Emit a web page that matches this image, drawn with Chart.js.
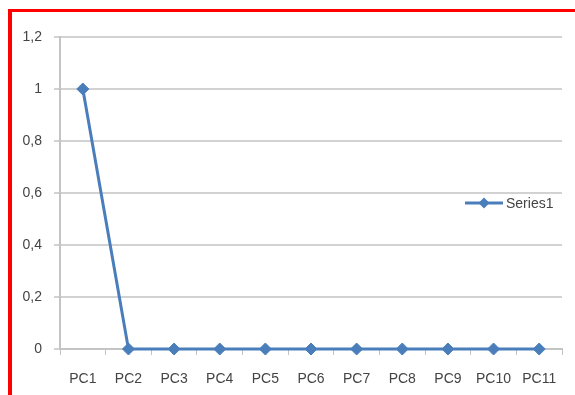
<!DOCTYPE html>
<html>
<head>
<meta charset="utf-8">
<script src="https://cdn.jsdelivr.net/npm/chart.js@4/dist/chart.umd.min.js"></script>
<style>
  html, body { margin: 0; padding: 0; background: #ffffff; }
  #wrap { position: relative; width: 575px; height: 395px; overflow: hidden; }
  #c { position: absolute; left: 0; top: 0; }
  #frame { position: absolute; left: 8px; top: 9px; width: 600px; height: 420px;
           border-left: 4px solid #ff0000; border-top: 3px solid #ff0000; pointer-events: none; }
</style>
</head>
<body>
<div id="wrap">
  <canvas id="c" width="575" height="395"></canvas>
  <div id="frame"></div>
</div>
<script>
const categories = ['PC1','PC2','PC3','PC4','PC5','PC6','PC7','PC8','PC9','PC10','PC11'];
const series1 = [1, 0, 0, 0, 0, 0, 0, 0, 0, 0, 0];
const seriesName = 'Series1';
const yTicks = [0, 0.2, 0.4, 0.6, 0.8, 1, 1.2];

const blue = '#4a7ebb';
const textColor = '#444444';
const fontFamily = '"Liberation Sans", Arial, sans-serif';

const legendPlugin = {
  id: 'customLegend',
  afterDraw(chart) {
    const ctx = chart.ctx;
    const y = 203;
    ctx.save();
    ctx.strokeStyle = blue;
    ctx.lineWidth = 3;
    ctx.beginPath();
    ctx.moveTo(465, y);
    ctx.lineTo(503, y);
    ctx.stroke();
    ctx.fillStyle = blue;
    ctx.beginPath();
    const cx = 484, r = 5.5;
    ctx.moveTo(cx, y - r); ctx.lineTo(cx + r, y); ctx.lineTo(cx, y + r); ctx.lineTo(cx - r, y);
    ctx.closePath();
    ctx.fill();
    ctx.fillStyle = textColor;
    ctx.font = '14px ' + fontFamily;
    ctx.textBaseline = 'middle';
    ctx.textAlign = 'left';
    ctx.fillText(seriesName, 506, y + 1);
    ctx.restore();
  }
};

new Chart(document.getElementById('c'), {
  type: 'line',
  data: {
    labels: categories,
    datasets: [{
      label: seriesName,
      data: series1,
      borderColor: blue,
      backgroundColor: blue,
      borderWidth: 3,
      pointStyle: 'rectRot',
      pointRadius: 6,
      pointBorderWidth: 1,
      pointBackgroundColor: blue,
      pointBorderColor: blue,
      tension: 0,
      clip: false
    }]
  },
  options: {
    responsive: false,
    animation: false,
    devicePixelRatio: 1,
    layout: { padding: { left: 0, right: 13, top: 37, bottom: 0 } },
    plugins: { legend: { display: false }, tooltip: { enabled: false } },
    scales: {
      x: {
        offset: true,
        grid: { display: true, drawOnChartArea: false, drawTicks: true, tickLength: 6, color: '#c4c4c4', offset: true },
        border: { display: true, color: '#c4c4c4', width: 2 },
        ticks: { color: textColor, font: { size: 14, family: fontFamily }, padding: 16, maxRotation: 0, autoSkip: false },
        afterFit(scale) { scale.height = 46; }
      },
      y: {
        min: 0,
        max: 1.2,
        afterBuildTicks(scale) { scale.ticks = yTicks.map(v => ({ value: v })); },
        grid: { color: '#d2d2d2', lineWidth: 2, tickLength: 6, drawTicks: true },
        border: { display: true, color: '#c4c4c4', width: 2 },
        ticks: {
          color: textColor,
          font: { size: 14, family: fontFamily },
          padding: 12,
          callback: v => String(Math.round(v * 10) / 10).replace('.', ',')
        },
        afterFit(scale) { scale.width = 60; }
      }
    }
  },
  plugins: [legendPlugin]
});
</script>
</body>
</html>
